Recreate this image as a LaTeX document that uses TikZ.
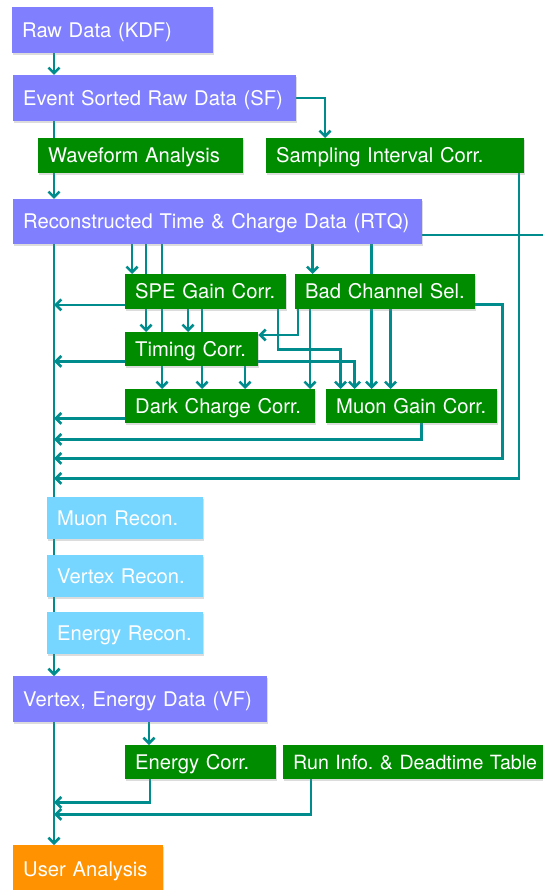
\documentclass[tikz,border=0pt]{standalone}
\usepackage{fontspec}
\setmainfont{TeX Gyre Heros}
\usetikzlibrary{arrows.meta,backgrounds,shadows}
\definecolor{databg}{RGB}{128,128,255}
\definecolor{corrgreen}{RGB}{0,140,0}
\definecolor{reconblue}{RGB}{119,214,255}
\definecolor{userorange}{RGB}{255,146,0}
\definecolor{flowteal}{RGB}{0,140,140}

\begin{document}
\frenchspacing
\begin{tikzpicture}[x=1pt,y=1pt,
    every node/.style={font=\fontsize{20.2}{24}\selectfont},
    box/.style={anchor=north west,text=white,inner xsep=10pt,inner ysep=0pt,
      text height=17pt,text depth=3pt,align=left,
      drop shadow={shadow xshift=1.2pt,shadow yshift=-1.6pt,opacity=.28}},
    data/.style={box,fill=databg,minimum height=46pt},
    corr/.style={box,fill=corrgreen,minimum height=35pt},
    recon/.style={box,fill=reconblue,minimum height=42pt},
    pipe/.style={draw=flowteal,line width=2.6pt},
    flow/.style={pipe,-{Straight Barb[length=5.5pt,width=11pt]}}]
  \useasboundingbox (0,0) rectangle (542,-890);

  % data files down the left side
  \node[data,text width=181pt] (raw) at (12,-7) {Raw Data (KDF)};
  \node[data,text width=263pt] (ev) at (13,-75) {Event Sorted Raw Data (SF)};
  \node[data,text width=389pt,minimum height=45pt] (rtq) at (13,-199) {Reconstructed Time \& Charge Data (RTQ)};
  \node[data,text width=234pt] (vf) at (13,-676) {Vertex, Energy Data (VF)};
  \node[data,fill=userorange,text width=130pt,minimum height=49pt] (user) at (13,-845) {User Analysis};

  % processing steps
  \node[corr,text width=185pt] (wf) at (38,-138) {Waveform Analysis};
  \node[corr,text width=238pt] (sic) at (266,-138) {Sampling Interval Corr.};
  \node[corr,text width=141pt] (spe) at (125,-274) {SPE Gain Corr.};
  \node[corr,text width=160pt] (bad) at (295,-274) {Bad Channel Sel.};
  \node[corr,text width=113pt,minimum height=34pt] (tim) at (125,-332) {Timing Corr.};
  \node[corr,text width=170pt,minimum height=34pt] (dark) at (125,-389) {Dark Charge Corr.};
  \node[corr,text width=151pt,minimum height=34pt] (mug) at (326,-389) {Muon Gain Corr.};
  \node[recon,text width=136pt] (mur) at (47,-497) {Muon Recon.};
  \node[recon,text width=136pt] (vtr) at (47,-555) {Vertex Recon.};
  \node[recon,text width=136pt] (enr) at (47,-612) {Energy Recon.};
  \node[corr,text width=131pt,minimum height=34pt] (ecor) at (125,-745) {Energy Corr.};
  \node[corr,text width=254pt,minimum height=34pt,font=\fontsize{19.6}{24}\selectfont] (run) at (283,-745) {Run Info. \& Deadtime Table};

  % main line and the rows feeding back into it
  \coordinate (trunk) at (54,0);
  \coordinate (edge) at (548,0);
  \coordinate (back1) at ([yshift=-16]mug.south -| trunk);
  \coordinate (back2) at ([yshift=-35]mug.south -| trunk);
  \coordinate (back3) at ([yshift=-55]mug.south -| trunk);

  \begin{scope}[on background layer]
    \draw[flow] (raw.south -| trunk) -- (ev.north -| trunk);
    \draw[pipe] (ev.south -| trunk) -- (wf.north -| trunk);
    \draw[flow] (wf.south -| trunk) -- (rtq.north -| trunk);
    \draw[flow] (ev.east) -| ([xshift=59]sic.north west);
    \draw[pipe] ([yshift=-13.5]rtq.east) -- ([yshift=-13.5]rtq.east -| edge);

    % rtq into the corrections
    \draw[flow] ([xshift=7]spe.north west |- rtq.south) -- ([xshift=7]spe.north west);
    \draw[flow] ([xshift=21]spe.north west |- rtq.south) -- ([xshift=21]tim.north west);
    \draw[flow] ([xshift=37]spe.north west |- rtq.south) -- ([xshift=37]dark.north west);
    \draw[flow] ([xshift=17.5]bad.north west |- rtq.south) -- ([xshift=17.5]bad.north west);
    \draw[flow] ([xshift=45.5]mug.north west |- rtq.south) -- ([xshift=45.5]mug.north west);

    % spe gain
    \draw[flow] ([xshift=63]spe.south west) -- ([xshift=63]tim.north west);
    \draw[flow] ([xshift=77]spe.south west) -- ([xshift=77]dark.north west);
    \draw[flow] ([xshift=-8.5]spe.south east) |- ([xshift=14.5]mug.north west |- tim.east) -- ([xshift=14.5]mug.north west);

    % timing
    \draw[flow] ([xshift=120]tim.south west) -- ([xshift=120]dark.north west);
    \draw[flow] ([yshift=5]tim.south east) -| ([xshift=28.5]mug.north west);

    % bad channels
    \draw[flow] ([xshift=3]bad.south west) |- ([yshift=-3]tim.north east);
    \draw[flow] ([xshift=15]bad.south west) -- ([xshift=15]bad.south west |- dark.north);
    \draw[flow] ([xshift=64.5]mug.north west |- bad.south) -- ([xshift=64.5]mug.north west);

    % back to the main line
    \draw[flow] ([yshift=4.5]spe.south west) -- ([yshift=4.5]spe.south west -| trunk);
    \draw[flow] ([yshift=5]tim.south west) -- ([yshift=5]tim.south west -| trunk);
    \draw[flow] ([yshift=5]dark.south west) -- ([yshift=5]dark.south west -| trunk);
    \draw[flow] ([xshift=10]mug.south) |- (back1);
    \draw[flow] ([yshift=-12.8]bad.east) -| ([xshift=27]bad.east |- back2) -- (back2);
    \draw[flow] ([xshift=-5.5]sic.south east) |- (back3);

    % reconstruction and after
    \draw[flow] (rtq.south -| trunk) -- (vf.north -| trunk);
    \draw[flow] ([xshift=24]ecor.north west |- vf.south) -- ([xshift=24]ecor.north west);
    \draw[flow] ([xshift=25]ecor.south west) |- ([yshift=-23]ecor.south -| trunk);
    \draw[flow] ([xshift=28]run.south west) |- ([yshift=-35]run.south west -| trunk);
    \draw[flow] (vf.south -| trunk) -- (user.north -| trunk);
  \end{scope}
\end{tikzpicture}
\end{document}
